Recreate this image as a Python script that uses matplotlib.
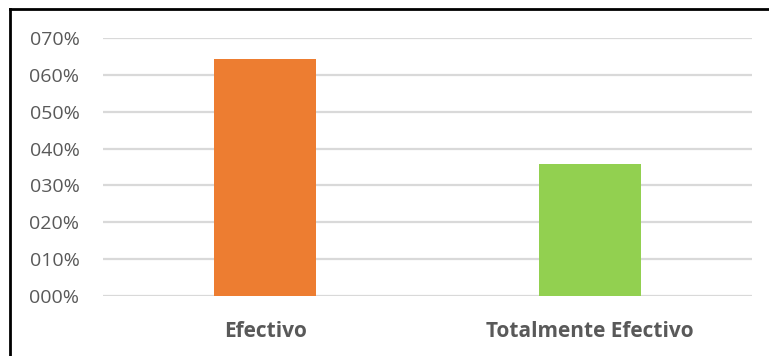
import matplotlib
matplotlib.use("Agg")
import matplotlib.pyplot as plt
from matplotlib.lines import Line2D
from matplotlib.ticker import FuncFormatter

categories = ["Efectivo", "Totalmente Efectivo"]
values = [64.3, 35.7]
colors = ["#ED7D31", "#92D050"]
yticks = [0, 10, 20, 30, 40, 50, 60, 70]

plt.rcParams["font.family"] = ["Open Sans", "DejaVu Sans"]

fig = plt.figure(figsize=(7.69, 3.56), dpi=100)
ax = fig.add_axes([103 / 769, 60 / 356, 649 / 769, 258 / 356])

x = range(len(categories))
ax.bar(x, values, width=0.315, color=colors, zorder=3)

ax.set_xlim(-0.5, len(categories) - 0.5)
ax.set_ylim(0, 70)
ax.set_yticks(yticks)
ax.yaxis.set_major_formatter(FuncFormatter(lambda v, _: f"{int(v):03d}%"))
ax.set_xticks(list(x))
ax.set_xticklabels(categories, fontsize=15, fontweight="bold", color="#595959")
ax.tick_params(axis="y", labelsize=14, labelcolor="#595959", length=0, pad=17)
ax.tick_params(axis="x", length=0, pad=18)

ax.grid(axis="y", color="#D9D9D9", linewidth=1.6, zorder=0)
for side in ax.spines.values():
    side.set_visible(False)

# outer frame: top and left edges only
fig.add_artist(Line2D([10 / 769, 1], [1 - 8.5 / 356, 1 - 8.5 / 356],
                      transform=fig.transFigure, color="black", linewidth=2))
fig.add_artist(Line2D([10 / 769, 10 / 769], [0, 1 - 8.5 / 356],
                      transform=fig.transFigure, color="black", linewidth=2))

fig.savefig("out.png", dpi=100)
